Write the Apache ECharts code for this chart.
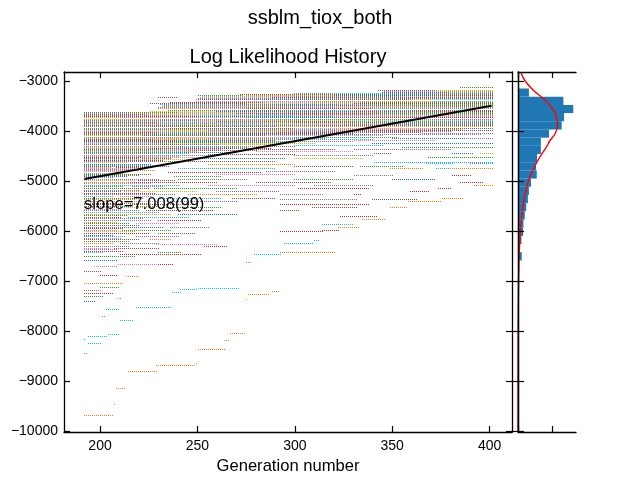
<!DOCTYPE html>
<html>
<head>
<meta charset="utf-8">
<script src="https://cdn.jsdelivr.net/npm/echarts@6/dist/echarts.min.js"></script>
<style>
html, body { margin: 0; padding: 0; background: #fff; }
#main { width: 640px; height: 480px; }
</style>
</head>
<body>
<div id="main"></div>
<script>
// tab10 colour cycle, one colour per chain
var palette = ['#1f77b4', '#ff7f0e', '#2ca02c', '#d62728', '#9467bd',
               '#8c564b', '#e377c2', '#7f7f7f', '#bcbd22', '#17becf'];

// each run: [first generation, last generation, log likelihood, chain colour]
var runs = [
  [385, 401, -3115, 2],
  [343, 372, -3180, 5], [372, 401, -3180, 8],
  [346, 375, -3200, 6], [375, 401, -3200, 1],
  [345, 380, -3220, 0], [380, 401, -3220, 9],
  [300, 345, -3238, 9], [345, 401, -3238, 4],
  [272, 330, -3255, 5], [330, 401, -3255, 2],
  [275, 320, -3277, 1], [320, 372, -3277, 0], [372, 401, -3277, 3],
  [250, 273, -3285, 2],
  [252, 300, -3300, 6], [300, 355, -3300, 7], [355, 401, -3300, 6],
  [251, 288, -3322, 8], [288, 340, -3322, 3], [340, 401, -3322, 5],
  [230, 239, -3327, 5],
  [250, 290, -3345, 4], [290, 350, -3345, 9], [350, 401, -3345, 0],
  [249, 296, -3367, 0], [296, 360, -3367, 5], [360, 401, -3367, 8],
  [249, 310, -3390, 6], [310, 370, -3390, 1], [370, 401, -3390, 9],
  [236, 284, -3412, 3], [284, 335, -3412, 6], [335, 401, -3412, 2],
  [226, 275, -3440, 5], [275, 330, -3440, 8], [330, 401, -3440, 3],
  [231, 270, -3458, 9], [270, 322, -3458, 2], [322, 401, -3458, 7],
  [233, 290, -3480, 4], [290, 345, -3480, 0], [345, 401, -3480, 2],
  [232, 300, -3503, 1], [300, 360, -3503, 6], [360, 401, -3503, 4],
  [230, 262, -3525, 7], [262, 320, -3525, 4], [320, 401, -3525, 1],
  [230, 275, -3548, 6], [275, 340, -3548, 3], [340, 401, -3548, 9],
  [235, 300, -3570, 2], [300, 360, -3570, 9], [360, 401, -3570, 5],
  [226, 260, -3597, 8], [260, 330, -3597, 0], [330, 401, -3597, 3],
  [192, 240, -3625, 2], [240, 295, -3625, 6], [295, 401, -3625, 7],
  [192, 215, -3642, 6], [215, 270, -3642, 1], [270, 345, -3642, 3], [345, 401, -3642, 2],
  [192, 225, -3660, 5], [225, 280, -3660, 8], [280, 340, -3660, 4], [340, 401, -3660, 9],
  [192, 242, -3683, 4], [242, 300, -3683, 9], [300, 401, -3683, 1],
  [192, 250, -3705, 3], [250, 320, -3705, 0], [320, 401, -3705, 6],
  [192, 210, -3728, 8], [210, 275, -3728, 6], [275, 340, -3728, 0], [340, 401, -3728, 3],
  [192, 232, -3750, 1], [232, 290, -3750, 7], [290, 365, -3750, 2], [365, 401, -3750, 4],
  [192, 250, -3773, 2], [250, 305, -3773, 1], [305, 380, -3773, 8], [380, 401, -3773, 6],
  [192, 260, -3795, 6], [260, 330, -3795, 5], [330, 401, -3795, 9],
  [192, 230, -3818, 3], [230, 300, -3818, 9], [300, 360, -3818, 0], [360, 401, -3818, 2],
  [192, 222, -3840, 9], [222, 285, -3840, 4], [285, 350, -3840, 1], [350, 401, -3840, 7],
  [192, 262, -3863, 1], [262, 325, -3863, 6], [325, 401, -3863, 4],
  [192, 245, -3885, 0], [245, 310, -3885, 2], [310, 401, -3885, 5],
  [192, 225, -3908, 7], [225, 290, -3908, 5], [290, 350, -3908, 1], [350, 401, -3908, 8],
  [192, 236, -3930, 4], [236, 300, -3930, 3], [300, 370, -3930, 6], [370, 401, -3930, 0],
  [192, 248, -3953, 2], [248, 320, -3953, 9], [320, 385, -3953, 1],
  [192, 255, -3975, 8], [255, 330, -3975, 7], [330, 401, -3975, 3],
  [192, 235, -3998, 6], [235, 300, -3998, 1], [300, 380, -3998, 4],
  [192, 230, -4020, 3], [230, 290, -4020, 9], [290, 365, -4020, 5],
  [365, 401, -4040, 7],
  [192, 250, -4043, 4], [250, 330, -4043, 3],
  [192, 264, -4065, 2], [264, 340, -4065, 0], [340, 395, -4065, 4],
  [192, 222, -4088, 8], [222, 285, -4088, 5], [285, 345, -4088, 6],
  [192, 240, -4110, 7], [240, 300, -4110, 6], [300, 352, -4110, 2],
  [350, 388, -4130, 0], [388, 401, -4130, 4],
  [192, 255, -4133, 1], [255, 315, -4133, 7],
  [192, 228, -4155, 5], [228, 290, -4155, 1], [290, 340, -4155, 9],
  [192, 240, -4178, 3], [240, 290, -4178, 0],
  [330, 372, -4180, 6],
  [192, 260, -4200, 0], [260, 330, -4200, 4],
  [192, 226, -4223, 9], [226, 300, -4223, 2],
  [340, 401, -4230, 0],
  [192, 235, -4245, 6], [235, 310, -4245, 8],
  [192, 262, -4268, 5], [262, 290, -4268, 1],
  [300, 345, -4270, 9],
  [192, 250, -4290, 4], [250, 300, -4290, 7],
  [355, 401, -4310, 2],
  [192, 240, -4313, 8], [240, 275, -4313, 9],
  [192, 226, -4335, 1], [226, 288, -4335, 3],
  [192, 232, -4358, 0], [232, 262, -4358, 6],
  [280, 320, -4360, 5], [330, 380, -4360, 4],
  [192, 245, -4380, 9], [245, 280, -4380, 5],
  [280, 330, -4400, 6],
  [192, 250, -4403, 1],
  [192, 238, -4425, 2], [238, 270, -4425, 0],
  [341, 349, -4433, 5], [381, 391, -4433, 0], [395, 401, -4433, 8],
  [192, 228, -4448, 4], [228, 245, -4448, 9],
  [255, 300, -4450, 3],
  [192, 260, -4470, 7],
  [300, 340, -4480, 7],
  [192, 240, -4493, 6],
  [192, 222, -4515, 3], [222, 250, -4515, 6],
  [368, 401, -4527, 2],
  [192, 220, -4538, 0], [222, 236, -4538, 5],
  [250, 295, -4540, 0], [300, 335, -4540, 8],
  [192, 245, -4560, 8],
  [192, 232, -4583, 3],
  [245, 290, -4600, 5],
  [192, 230, -4605, 4], [230, 240, -4605, 2],
  [341, 401, -4613, 9],
  [192, 214, -4628, 8],
  [367, 381, -4647, 9], [390, 396, -4647, 4], [397, 401, -4647, 9],
  [192, 226, -4650, 0],
  [255, 300, -4660, 1],
  [192, 228, -4673, 9],
  [192, 235, -4695, 5],
  [300, 330, -4700, 5], [333, 355, -4700, 2],
  [192, 205, -4718, 1], [208, 225, -4718, 3],
  [192, 218, -4740, 6], [240, 290, -4740, 9],
  [349, 366, -4747, 1], [372, 381, -4747, 9], [381, 401, -4747, 1],
  [192, 222, -4763, 4],
  [192, 228, -4785, 1],
  [285, 320, -4800, 4],
  [192, 210, -4808, 6],
  [235, 282, -4820, 3],
  [192, 212, -4830, 9],
  [192, 226, -4853, 5],
  [260, 300, -4860, 6],
  [192, 220, -4875, 2],
  [381, 390, -4880, 3], [330, 350, -4880, 7],
  [192, 214, -4898, 0],
  [238, 262, -4900, 2],
  [192, 206, -4920, 7],
  [192, 230, -4950, 4], [240, 275, -4950, 7], [300, 330, -4950, 2], [350, 372, -4950, 0],
  [192, 218, -4980, 8], [220, 238, -4980, 5],
  [192, 215, -5010, 1], [215, 260, -5010, 3], [280, 318, -5010, 5], [385, 396, -5010, 3],
  [192, 226, -5040, 6],
  [192, 240, -5075, 9], [255, 300, -5075, 6], [310, 340, -5075, 7], [392, 401, -5075, 1],
  [192, 212, -5105, 2], [216, 232, -5105, 4],
  [192, 225, -5140, 5], [228, 270, -5140, 2], [302, 338, -5140, 3], [373, 380, -5140, 3],
  [192, 220, -5170, 7],
  [192, 210, -5200, 0], [212, 250, -5200, 8], [260, 292, -5200, 4], [359, 369, -5200, 3],
  [192, 228, -5235, 3],
  [192, 238, -5265, 7], [245, 280, -5265, 1], [292, 314, -5265, 4], [330, 334, -5265, 3],
  [192, 206, -5300, 9], [210, 226, -5300, 6],
  [192, 222, -5330, 2], [230, 262, -5330, 9], [268, 290, -5330, 5], [376, 386, -5330, 1],
  [292, 332, -5360, 7], [340, 362, -5360, 5],
  [192, 218, -5365, 1],
  [192, 232, -5400, 6], [236, 270, -5400, 4], [358, 375, -5400, 1],
  [192, 224, -5430, 5],
  [192, 212, -5460, 3], [215, 250, -5460, 5], [292, 338, -5460, 3],
  [192, 216, -5490, 0], [218, 230, -5490, 7],
  [192, 228, -5520, 8], [232, 262, -5520, 2], [309, 332, -5520, 5], [349, 357, -5520, 1],
  [192, 210, -5555, 6],
  [192, 220, -5585, 4], [224, 258, -5585, 3], [292, 302, -5585, 5],
  [192, 230, -5620, 9],
  [192, 236, -5650, 1], [240, 270, -5650, 0],
  [192, 214, -5680, 2],
  [323, 342, -5695, 3],
  [192, 210, -5715, 5], [214, 245, -5715, 9],
  [192, 222, -5745, 4],
  [335, 346, -5760, 1],
  [192, 226, -5780, 7], [230, 252, -5780, 3],
  [192, 208, -5810, 1],
  [192, 215, -5845, 2], [218, 240, -5845, 6],
  [314, 330, -5860, 9],
  [192, 220, -5875, 5],
  [192, 232, -5910, 0], [236, 256, -5910, 7], [322, 333, -5910, 1],
  [192, 212, -5940, 3],
  [192, 208, -5970, 6], [211, 236, -5970, 2], [314, 322, -5970, 3],
  [292, 314, -5995, 3],
  [192, 218, -6005, 8],
  [192, 225, -6035, 3], [230, 248, -6035, 5],
  [192, 206, -6070, 0],
  [192, 213, -6100, 9], [218, 240, -6100, 4],
  [192, 210, -6135, 6],
  [192, 220, -6165, 5], [226, 236, -6165, 1],
  [310, 312, -6180, 9],
  [192, 215, -6200, 2],
  [192, 206, -6230, 1], [210, 230, -6230, 7],
  [294, 309, -6247, 9],
  [229, 260, -6260, 6],
  [192, 215, -6300, 7], [253, 265, -6300, 3],
  [192, 204, -6330, 6],
  [207, 230, -6345, 5],
  [192, 208, -6365, 4],
  [192, 212, -6400, 3],
  [192, 201, -6427, 9], [230, 241, -6427, 2], [292, 320, -6427, 1],
  [210, 252, -6467, 3], [279, 293, -6467, 9],
  [192, 218, -6500, 2],
  [192, 208, -6580, 0],
  [275, 277, -6627, 9],
  [209, 230, -6660, 6], [230, 237, -6660, 3],
  [197, 208, -6700, 6],
  [192, 200, -6800, 5],
  [200, 208, -6880, 3],
  [213, 220, -6900, 1],
  [192, 212, -7033, 1],
  [200, 209, -7113, 2],
  [250, 271, -7147, 9],
  [241, 250, -7167, 9],
  [192, 200, -7180, 7],
  [288, 292, -7200, 1],
  [237, 241, -7213, 9],
  [192, 206, -7247, 3],
  [276, 287, -7260, 1],
  [192, 201, -7300, 2],
  [209, 210, -7340, 9],
  [275, 275.5, -7367, 1],
  [192, 197, -7400, 0],
  [218, 236, -7527, 9],
  [203, 209, -7567, 9],
  [201, 202, -7707, 9],
  [210, 217, -7773, 9],
  [267, 274, -8047, 1],
  [204, 209, -8067, 9],
  [194, 203, -8107, 9],
  [192, 192.5, -8160, 9],
  [264, 266, -8180, 1],
  [194, 200, -8247, 9],
  [250, 264, -8367, 1],
  [192, 193, -8447, 9],
  [249, 249.5, -8630, 1],
  [229, 248, -8687, 1],
  [214, 229, -8800, 1],
  [208, 213, -9147, 1],
  [207, 207.5, -9460, 1],
  [192, 206, -9680, 1]
];

// least-squares trend line end points
var fitEnds = [[192, -4960], [401, -3495]];
var slopeText = 'slope=7.008(99)';

// histogram of log likelihood: bin edges (top down) and counts per bin
var histEdges = [-3150, -3314, -3478, -3641, -3805, -3969, -4133, -4296, -4460, -4624,
                 -4788, -4951, -5115, -5279, -5443, -5606, -5770, -5934, -6098, -6261,
                 -6425, -6589];
var histCounts = [32, 133, 162, 135, 128, 91, 67, 67, 56, 53,
                  55, 38, 32, 29, 24, 20, 16, 15, 10, 0, 11];

// fitted normal curve: [count, log likelihood]
var curvePts = [[8, -2820], [19, -2980], [44, -3180], [79, -3380], [104, -3580],
                [112, -3700], [116, -3870], [109, -4050], [93, -4200], [84, -4314],
                [59, -4580], [35, -4914], [21, -5240], [13, -5580], [8, -5914],
                [5, -6250], [3, -6580], [1, -7380], [0.3, -8500], [0, -10020]];

var genTicks = [200, 250, 300, 350, 400];
var llTicks = [-10000, -9000, -8000, -7000, -6000, -5000, -4000, -3000];
var countTicks = [0, 100];

var FONT = '"Liberation Sans", Arial, sans-serif';

// one dot per generation; dots snapped to even pixels so columns line up across chains
function renderRun(params, api) {
  var a = api.coord([api.value(0), api.value(2)]);
  var b = api.coord([api.value(1), api.value(2)]);
  var y = Math.round(a[1]) + 0.5;
  var x1 = 2 * Math.round(a[0] / 2);
  return {
    type: 'line',
    shape: { x1: x1, y1: y, x2: Math.max(x1 + 1, Math.round(b[0]) + 1), y2: y },
    style: { stroke: palette[api.value(3)], lineWidth: 1, lineDash: [1, 1] }
  };
}

function renderBin(params, api) {
  var lo = api.coord([0, api.value(1)]);
  var hi = api.coord([api.value(0), api.value(2)]);
  return {
    type: 'rect',
    shape: { x: lo[0], y: hi[1], width: hi[0] - lo[0], height: lo[1] - hi[1] },
    style: { fill: '#1f77b4' }
  };
}

var binData = histCounts.map(function (c, i) {
  return [c, histEdges[i + 1], histEdges[i]];
});

function frameAxis(extra) {
  var ax = {
    type: 'value',
    z: 10,
    axisLine: { show: true, lineStyle: { color: '#000', width: 1.3 } },
    axisTick: { show: true, inside: true, length: 6, lineStyle: { color: '#000', width: 1.2 } },
    axisLabel: { show: false },
    splitLine: { show: false }
  };
  for (var k in extra) ax[k] = extra[k];
  return ax;
}

function ticksAt(vals) {
  return { show: true, inside: true, length: 6, customValues: vals, lineStyle: { color: '#000', width: 1.2 } };
}

var minus = function (v) { return String(v).replace('-', '\u2212'); };

var myChart = echarts.init(document.getElementById('main'));
var option = {
  animation: false,
  backgroundColor: '#fff',
  grid: [
    { left: 64, top: 72, width: 448, height: 360 },
    { left: 518, top: 72, width: 58, height: 360 }
  ],
  xAxis: [
    frameAxis({
      gridIndex: 0, min: 181.5, max: 411.5, position: 'bottom',
      axisTick: ticksAt(genTicks),
      axisLabel: { show: true, customValues: genTicks, margin: 7, color: '#000', fontSize: 14, fontFamily: FONT },
      name: 'Generation number', nameLocation: 'middle', nameGap: 22,
      nameTextStyle: { color: '#000', fontSize: 16.6, fontFamily: FONT }
    }),
    frameAxis({ gridIndex: 0, min: 181.5, max: 411.5, position: 'top', axisTick: ticksAt(genTicks) }),
    frameAxis({ gridIndex: 1, min: 0, max: 170, position: 'bottom', axisTick: ticksAt(countTicks) }),
    frameAxis({ gridIndex: 1, min: 0, max: 170, position: 'top', axisTick: ticksAt(countTicks) })
  ],
  yAxis: [
    frameAxis({
      gridIndex: 0, min: -10020, max: -2820, position: 'left',
      axisTick: ticksAt(llTicks),
      axisLabel: { show: true, customValues: llTicks, margin: 6, color: '#000', fontSize: 14, fontFamily: FONT, formatter: minus }
    }),
    frameAxis({ gridIndex: 0, min: -10020, max: -2820, position: 'right', axisTick: ticksAt(llTicks) }),
    frameAxis({ gridIndex: 1, min: -10020, max: -2820, position: 'left', axisTick: ticksAt(llTicks) }),
    frameAxis({ gridIndex: 1, min: -10020, max: -2820, position: 'right', axisTick: ticksAt(llTicks) })
  ],
  series: [
    {
      type: 'custom', xAxisIndex: 0, yAxisIndex: 0,
      renderItem: renderRun, clip: true,
      encode: { x: [0, 1], y: 2 },
      data: runs, z: 2
    },
    {
      type: 'line', xAxisIndex: 0, yAxisIndex: 0,
      data: fitEnds, symbol: 'none',
      lineStyle: { color: '#000', width: 2 }, z: 5
    },
    {
      type: 'custom', xAxisIndex: 2, yAxisIndex: 2,
      renderItem: renderBin, clip: true,
      encode: { x: 0, y: [1, 2] },
      data: binData, z: 2
    },
    {
      type: 'line', xAxisIndex: 2, yAxisIndex: 2,
      data: curvePts, symbol: 'none', smooth: 0.4, clip: true,
      lineStyle: { color: '#ff0000', width: 1.4 }, z: 5
    }
  ],
  graphic: [
    { type: 'text', x: 320, y: 18, z: 10,
      style: { text: 'ssblm_tiox_both', font: '20px ' + FONT, fill: '#000', align: 'center', verticalAlign: 'middle' } },
    { type: 'text', x: 288, y: 57, z: 10,
      style: { text: 'Log Likelihood History', font: '20px ' + FONT, fill: '#000', align: 'center', verticalAlign: 'middle' } },
    { type: 'text', x: 84, y: 204, z: 10,
      style: { text: slopeText, font: '16.6px ' + FONT, fill: '#000', align: 'left', verticalAlign: 'middle' } }
  ]
};
myChart.setOption(option);
</script>
</body>
</html>
